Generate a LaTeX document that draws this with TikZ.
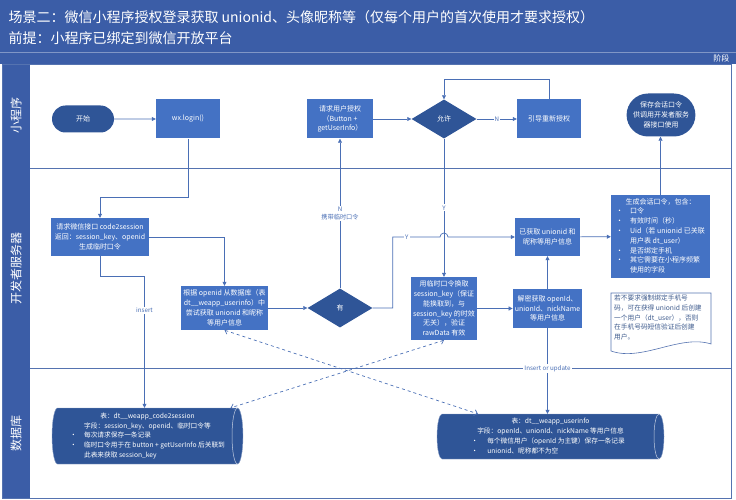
\documentclass[tikz,border=0pt]{standalone}
\usepackage{fontspec}
\setmainfont{Noto Sans CJK SC}
\usetikzlibrary{arrows.meta,shapes.geometric,shapes.misc}
\definecolor{hdrblue}{HTML}{3B5DA7}
\definecolor{boxblue}{HTML}{4472C4}
\definecolor{darkblue}{HTML}{2F5597}
\definecolor{lineblue}{HTML}{4A6FB5}
\definecolor{frameblue}{HTML}{5573B0}
\definecolor{notetext}{HTML}{3D5A8C}

\begin{document}
\begin{tikzpicture}[x=1pt,y=-1pt,>={Triangle[length=4pt,width=4pt]},
  proc/.style={fill=boxblue,text=white,align=center,inner sep=2pt,font=\fontsize{7}{9.8}\selectfont},
  term/.style={rounded rectangle,fill=darkblue,text=white,align=center,inner sep=2pt,font=\fontsize{7}{9.8}\selectfont},
  dec/.style={diamond,aspect=1.67,fill=darkblue,text=white,inner sep=1pt,minimum width=65pt,minimum height=39pt,font=\fontsize{7}{9.8}\selectfont},
  db/.style={inner sep=0pt,text=white,font=\fontsize{6.7}{9.8}\selectfont},
  dbbody/.style={fill=darkblue,draw=white!45!darkblue,line width=0.4pt},
  dbcap/.style={draw=white!70!darkblue,line width=0.5pt},
  flow/.style={draw=lineblue,line width=0.7pt,->},
  dflow/.style={draw=lineblue,line width=0.7pt,dashed,{Straight Barb[length=3pt]}-{Straight Barb[length=3pt]}},
  lbl/.style={fill=white,text=lineblue,inner sep=1pt,align=center,font=\fontsize{6.2}{7.5}\selectfont}]
\useasboundingbox (0,0) rectangle (736,500);
\fill[hdrblue] (0,0) rectangle (736,64);
\draw[white!35!hdrblue,line width=0.8pt] (0,52.5) -- (736,52.5);
\node[anchor=west,text=white,font=\fontsize{14}{16}\selectfont] (title) at (5,17) {场景二：微信小程序授权登录获取 unionid、头像昵称等（仅每个用户的首次使用才要求授权）};
\node[anchor=west,text=white,font=\fontsize{14}{16}\selectfont] (premise) at (5,38) {前提：小程序已绑定到微信开放平台};
\node[anchor=east,text=white,font=\fontsize{8}{9}\selectfont] (stage) at (733,58) {阶段};
\fill[hdrblue] (2,64) rectangle (30,498);
\draw[frameblue,line width=0.8pt] (2,64) rectangle (731,498);
\draw[frameblue,line width=0.8pt] (30,168) -- (731,168);
\draw[frameblue,line width=0.8pt] (30,368) -- (731,368);
\node[rotate=90,text=white,font=\fontsize{12}{14}\selectfont] (lane1) at (16,116) {小程序};
\node[rotate=90,text=white,font=\fontsize{12}{14}\selectfont] (lane2) at (16,268) {开发者服务器};
\node[rotate=90,text=white,font=\fontsize{12}{14}\selectfont] (lane3) at (16,433) {数据库};

\node[term,minimum width=66pt,minimum height=27pt] (start) at (83,119) {开始};
\node[proc,minimum width=64pt,minimum height=39pt] (wxlogin) at (188,119) {wx.login()};
\node[proc,minimum width=66pt,minimum height=39pt] (askauth) at (340,119) {请求用户授权\\（Button +\\getUserInfo）};
\node[dec] (allow) at (444,119) {允许};
\node[proc,minimum width=64pt,minimum height=39pt] (reauth) at (549,119) {引导重新授权};
\node[term,minimum width=67pt,minimum height=43pt] (savetoken) at (661,115) {保存会话口令\\供调用开发者服务\\器接口使用};

\node[proc,minimum width=98pt,minimum height=38pt] (code2sess) at (100,237) {请求微信接口 code2session\\返回：session\_key、openid\\生成临时口令};
\node[proc,minimum width=87pt,minimum height=44pt] (lookup) at (224.5,308) {根据 openid 从数据库（表\\dt\_\_weapp\_userinfo）中\\尝试获取 unionid 和昵称\\等用户信息};
\node[dec] (has) at (340,308) {有};
\node[proc,minimum width=66pt,minimum height=63pt] (exchange) at (444,308.5) {用临时口令换取\\session\_key（保证\\能换取到，与\\session\_key 的时效\\无关），验证\\rawData 有效};
\node[proc,minimum width=65pt,minimum height=39pt] (decrypt) at (547.5,308.5) {解密获取 openId、\\unionId、nickName\\等用户信息};
\node[proc,minimum width=65pt,minimum height=38pt] (gotinfo) at (547.5,237) {已获取 unionid 和\\昵称等用户信息};
\node[proc,minimum width=99pt,minimum height=83pt] (maketoken) at (660.5,236.5) {\begin{tabular}{@{}p{14pt}@{}l@{}}
\multicolumn{2}{c}{生成会话口令，包含：}\\
•&口令\\
•&有效时间（秒）\\
•&Uid（若 unionid 已关联\\
&用户表 dt\_user）\\
•&是否绑定手机\\
•&其它需要在小程序频繁\\
&使用的字段
\end{tabular}};
\node[anchor=north west,align=left,text=notetext,inner sep=0pt,font=\fontsize{6.7}{9.7}\selectfont] (note) at (614,295) {若不要求强制绑定手机号\\码，可在获得 unionid 后创建\\一个用户（dt\_user），否则\\在手机号码短信验证后创建\\用户。};
\draw[frameblue,line width=0.6pt] (611,293) -- (711,293) -- (711,344) .. controls (680,334) and (642,362) .. (611,351) -- cycle;

\path[dbbody] (57.5,408) -- (237.5,408) arc[start angle=90,end angle=-90,x radius=5.5pt,y radius=28pt] -- (57.5,464) arc[start angle=270,end angle=90,x radius=5.5pt,y radius=28pt] -- cycle;
\draw[dbcap] (237.5,408) arc[start angle=90,end angle=270,x radius=5.5pt,y radius=28pt];
\node[db,minimum width=180pt,minimum height=56pt] (tblsess) at (147.5,436) {\begin{tabular}{@{}p{14pt}@{}l@{}}
\multicolumn{2}{c}{表：dt\_\_weapp\_code2session}\\
\multicolumn{2}{c}{字段：session\_key、openid、临时口令等}\\
•&每次请求保存一条记录\\
•&临时口令用于在 button + getUserInfo 后关联到\\
&此表来获取 session\_key
\end{tabular}};
\path[dbbody] (442,414) -- (659,414) arc[start angle=90,end angle=-90,x radius=5pt,y radius=22.5pt] -- (442,459) arc[start angle=270,end angle=90,x radius=5pt,y radius=22.5pt] -- cycle;
\draw[dbcap] (659,414) arc[start angle=90,end angle=270,x radius=5pt,y radius=22.5pt];
\node[db,minimum width=217pt,minimum height=45pt] (tbluser) at (550.5,436.5) {\begin{tabular}{@{}p{16pt}@{}l@{}}
\multicolumn{2}{c}{表：dt\_\_weapp\_userinfo}\\
\multicolumn{2}{c}{字段：openId、unionId、nickName 等用户信息}\\
•&每个微信用户（openId 为主键）保存一条记录\\
•&unionid、昵称都不为空
\end{tabular}};

\draw[flow] (start) -- (wxlogin);
\draw[flow] (askauth) -- (allow);
\draw[flow] (allow) -- node[lbl]{N} (reauth);
\draw[flow] (reauth.north) -- ++(0,-20) -| (allow.north);
\draw[flow] (wxlogin.south) -- ++(0,59) -| (code2sess.north);
\draw[flow] (code2sess.east) -| (lookup.north);
\draw[flow] (code2sess.south) -- ++(0,20) -| node[lbl,pos=0.63]{insert} ([xshift=-3pt]tblsess.north);
\draw[flow] (lookup) -- (has);
\draw[flow] (has.north) -- node[lbl]{N\\携带临时口令} (askauth.south);
\draw[flow] (has.east) -- ++(20,0) |- node[lbl,pos=0.65]{Y} (440,237) arc[start angle=180,end angle=0,radius=4pt] -- (gotinfo.west);
\draw[flow] (allow.south) -- node[lbl]{Y} (exchange.north);
\draw[flow] (exchange) -- (decrypt);
\draw[flow] (decrypt) -- (gotinfo);
\draw[flow] (gotinfo) -- (maketoken);
\draw[flow] (maketoken.north) -- (maketoken.north |- savetoken.south);
\draw[flow] (decrypt.south) -- node[lbl,pos=0.47]{Insert or update} (decrypt.south |- tbluser.north);
\draw[dflow] (exchange.south) -- ([xshift=-7pt]tblsess.north east);
\draw[dflow] (lookup.south) -- ([xshift=36pt]tbluser.north west);
\end{tikzpicture}
\end{document}
